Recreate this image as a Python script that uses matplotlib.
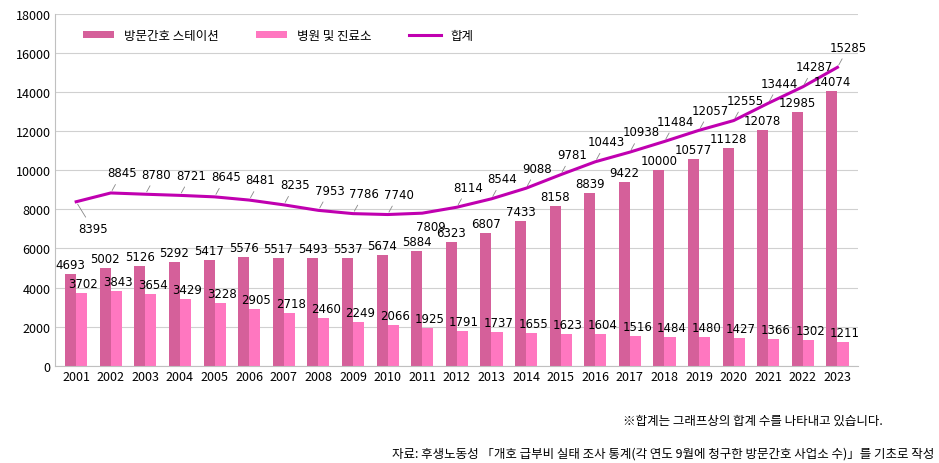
import matplotlib.pyplot as plt
import numpy as np

plt.rcParams['font.family'] = ['Noto Sans CJK KR', 'DejaVu Sans']

years = [str(y) for y in range(2001, 2024)]
station = [4693, 5002, 5126, 5292, 5417, 5576, 5517, 5493, 5537, 5674, 5884, 6323,
           6807, 7433, 8158, 8839, 9422, 10000, 10577, 11128, 12078, 12985, 14074]
hospital = [3702, 3843, 3654, 3429, 3228, 2905, 2718, 2460, 2249, 2066, 1925, 1791,
            1737, 1655, 1623, 1604, 1516, 1484, 1480, 1427, 1366, 1302, 1211]
total = [8395, 8845, 8780, 8721, 8645, 8481, 8235, 7953, 7786, 7740, 7809, 8114,
         8544, 9088, 9781, 10443, 10938, 11484, 12057, 12555, 13444, 14287, 15285]

fig = plt.figure(figsize=(9.39, 4.64), dpi=100)
ax = fig.add_axes([0.059, 0.21, 0.855, 0.757])
x = np.arange(len(years))
w = 0.32
b1 = ax.bar(x - w / 2, station, w, color='#d5609a', label='방문간호 스테이션', zorder=2)
b2 = ax.bar(x + w / 2, hospital, w, color='#ff77c0', label='병원 및 진료소', zorder=2)
l1, = ax.plot(x, total, color='#c000b0', lw=2.2, label='합계', zorder=3)

for i in x:
    ax.text(i - w / 2, station[i] + 150, str(station[i]), ha='center', va='bottom', fontsize=8.5, family='DejaVu Sans')
    ax.text(i + w / 2 + 0.05, hospital[i] + 150, str(hospital[i]), ha='center', va='bottom', fontsize=8.5, family='DejaVu Sans')
    if i == 0:
        ax.annotate(str(total[i]), (i, total[i]), xytext=(12, -22), textcoords='offset points',
                    ha='center', fontsize=8.5, family='DejaVu Sans',
                    arrowprops=dict(arrowstyle='-', color='#888', lw=0.6))
    elif i == 10:
        ax.text(i + 0.25, total[i] - 350, str(total[i]), ha='center', va='top',
                fontsize=8.5, family='DejaVu Sans')
    else:
        ax.annotate(str(total[i]), (i, total[i]), xytext=(8, 12), textcoords='offset points',
                    ha='center', fontsize=8.5, family='DejaVu Sans',
                    arrowprops=dict(arrowstyle='-', color='#888', lw=0.6))

ax.set_xlim(-0.6, len(years) - 0.4)
ax.set_ylim(0, 18000)
ax.set_yticks(range(0, 18001, 2000))
ax.set_xticks(x)
ax.set_xticklabels(years)
ax.tick_params(labelsize=9, length=0)
ax.grid(axis='y', color='#d0d0d0', lw=0.8, zorder=0)
for s in ['top', 'right']:
    ax.spines[s].set_visible(False)
ax.spines['left'].set_color('#c0c0c0')
ax.spines['bottom'].set_color('#c0c0c0')
ax.legend([b1, b2, l1], ['방문간호 스테이션', '병원 및 진료소', '합계'],
          loc='upper left', bbox_to_anchor=(0.02, 0.99), ncol=3, frameon=False,
          fontsize=9, handlelength=2.5, handleheight=0.4, columnspacing=3)

fig.text(0.94, 0.085, '※합계는 그래프상의 합계 수를 나타내고 있습니다.', ha='right', fontsize=9)
fig.text(0.995, 0.015, '자료: 후생노동성 「개호 급부비 실태 조사 통계(각 연도 9월에 청구한 방문간호 사업소 수)」를 기초로 작성',
         ha='right', fontsize=9)
fig.savefig('out.png', dpi=100)
